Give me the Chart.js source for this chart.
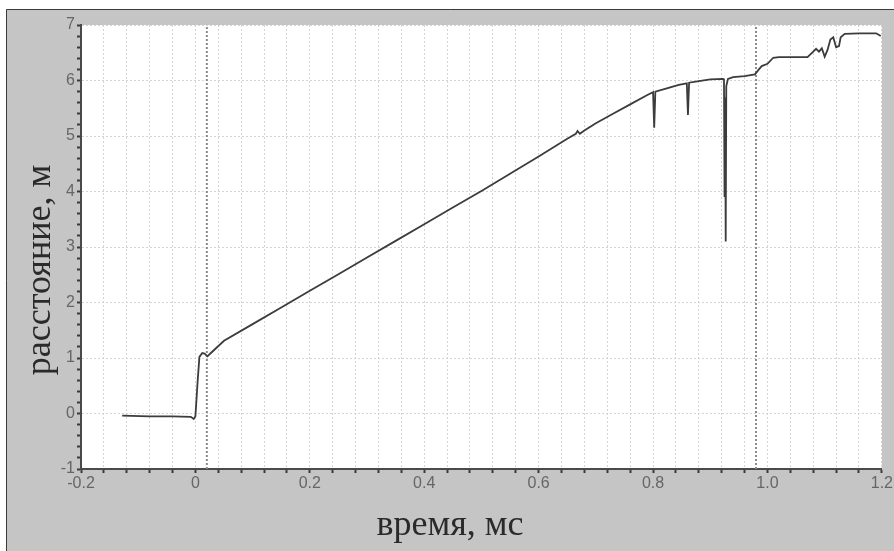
<!DOCTYPE html>
<html>
<head>
<meta charset="utf-8">
<script src="https://cdn.jsdelivr.net/npm/chart.js@4.4.1/dist/chart.umd.min.js"></script>
<style>
  body { margin: 0; background: #fff; }
  .cadre { width: 894px; height: 551px; }
</style>
</head>
<body>
<div class="cadre"><canvas id="myChart"></canvas></div>
<script>
// donnees
const temps = [
  -0.128, -0.08, -0.04, -0.008, -0.003, 0.0, 0.004, 0.007, 0.012, 0.016, 0.021, 0.027,
  0.05, 0.1, 0.15, 0.2, 0.25, 0.3, 0.35, 0.4, 0.45, 0.5, 0.55, 0.6, 0.65,
  0.665, 0.668, 0.672, 0.68, 0.7, 0.73, 0.76, 0.79, 0.8, 0.802, 0.804,
  0.824, 0.845, 0.859, 0.861, 0.863, 0.88, 0.9, 0.922, 0.924, 0.925, 0.926, 0.927, 0.928, 0.931,
  0.94, 0.96, 0.978, 0.985, 0.99, 1.0, 1.01, 1.02, 1.07, 1.08, 1.085, 1.09, 1.095, 1.1,
  1.105, 1.11, 1.115, 1.12, 1.125, 1.128, 1.135, 1.16, 1.19, 1.198
];
const distance = [
  -0.04, -0.05, -0.05, -0.06, -0.1, -0.05, 0.6, 1.02, 1.09, 1.08, 1.03, 1.09,
  1.31, 1.61, 1.91, 2.21, 2.51, 2.81, 3.11, 3.41, 3.71, 4.01, 4.32, 4.63, 4.95,
  5.04, 5.09, 5.04, 5.1, 5.23, 5.4, 5.57, 5.74, 5.79, 5.15, 5.8,
  5.86, 5.92, 5.95, 5.38, 5.96, 5.99, 6.02, 6.03, 6.02, 3.9, 5.7, 3.1, 5.9, 6.03,
  6.06, 6.08, 6.11, 6.2, 6.26, 6.3, 6.41, 6.42, 6.42, 6.52, 6.57, 6.52, 6.58, 6.43,
  6.55, 6.74, 6.78, 6.6, 6.62, 6.78, 6.84, 6.85, 6.85, 6.8
];
// lignes verticales pointillees (curseurs)
const curseurs = [0.02, 0.98];

const xMin = -0.2, xMax = 1.2, xPas = 0.04;
const yMin = -1, yMax = 7, yPas = 0.2;
const titreX = "время, мс";
const titreY = "расстояние, м";

const points = temps.map((t, i) => ({ x: t, y: distance[i] }));

const estMultiple = (v, pas) => Math.abs(v / pas - Math.round(v / pas)) < 1e-6;

// fond gris, cadre et titres des axes
const fondPlugin = {
  id: "fond",
  beforeDraw(chart) {
    const { ctx, chartArea: a, width, height } = chart;
    ctx.save();
    ctx.fillStyle = "#c5c5c6";
    ctx.fillRect(6, 9, width - 6, height - 9);
    ctx.strokeStyle = "#3a3a3a";
    ctx.lineWidth = 1;
    ctx.beginPath();
    ctx.moveTo(6.5, height);
    ctx.lineTo(6.5, 9.5);
    ctx.lineTo(width, 9.5);
    ctx.stroke();
    ctx.fillStyle = "#ffffff";
    ctx.fillRect(a.left, a.top, a.right - a.left, a.bottom - a.top);
    ctx.restore();
  },
  afterDraw(chart) {
    const { ctx } = chart;
    ctx.save();
    ctx.fillStyle = "#2a2a2a";
    ctx.font = "36px 'Liberation Serif', serif";
    ctx.textAlign = "center";
    ctx.textBaseline = "alphabetic";
    ctx.fillText(titreX, 450, 535);
    ctx.translate(50, 270);
    ctx.rotate(-Math.PI / 2);
    ctx.fillText(titreY, 0, 0);
    ctx.restore();
  }
};

const datasets = [{
  data: points,
  borderColor: "#3c3c3c",
  borderWidth: 1.8,
  pointRadius: 0,
  tension: 0
}];
curseurs.forEach(c => {
  datasets.push({
    data: [{ x: c, y: yMin }, { x: c, y: yMax }],
    borderColor: "#8a8a8a",
    borderWidth: 2,
    borderDash: [2, 2],
    pointRadius: 0
  });
});

new Chart(document.getElementById("myChart"), {
  type: "line",
  data: { datasets },
  plugins: [fondPlugin],
  options: {
    responsive: true,
    maintainAspectRatio: false,
    animation: false,
    layout: { padding: { left: 0, top: 25, right: 12, bottom: 0 } },
    plugins: { legend: { display: false }, tooltip: { enabled: false } },
    scales: {
      x: {
        type: "linear",
        min: xMin,
        max: xMax,
        afterFit: s => { s.height = 82; },
        border: { display: true, color: "#4a4a4a", width: 2, dash: [2, 2] },
        grid: {
          color: "#d4d4d4",
          lineWidth: 1,
          tickLength: 4,
          tickColor: "#3a3a3a",
          tickWidth: 2,
          tickBorderDash: []
        },
        ticks: {
          stepSize: xPas,
          autoSkip: false,
          maxRotation: 0,
          padding: 1,
          color: "#666666",
          font: { family: "'Liberation Sans', Arial, sans-serif", size: 16 },
          callback: v => {
            if (!estMultiple(v, 0.2)) return "";
            if (Math.abs(v) < 1e-9) return "0";
            return v.toFixed(1);
          }
        }
      },
      y: {
        min: yMin,
        max: yMax,
        afterFit: s => { s.width = 81; },
        border: { display: true, color: "#4a4a4a", width: 2, dash: [2, 2] },
        grid: {
          color: c => estMultiple(c.tick.value, 1) ? "#d4d4d4" : "rgba(0,0,0,0)",
          lineWidth: 1,
          tickLength: 4,
          tickColor: "#3a3a3a",
          tickWidth: 2,
          tickBorderDash: []
        },
        ticks: {
          stepSize: yPas,
          autoSkip: false,
          padding: 2,
          color: "#666666",
          font: { family: "'Liberation Sans', Arial, sans-serif", size: 16 },
          callback: v => estMultiple(v, 1) ? String(Math.round(v)) : ""
        }
      }
    }
  }
});
</script>
</body>
</html>
